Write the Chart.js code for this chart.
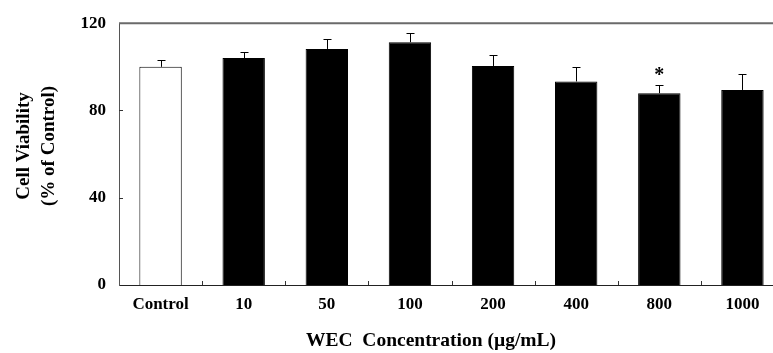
<!DOCTYPE html>
<html>
<head>
<meta charset="utf-8">
<script src="https://cdn.jsdelivr.net/npm/chart.js@4/dist/chart.umd.min.js"></script>
<style>
  html, body { margin: 0; padding: 0; background: #fff; overflow: hidden; }
  #wrap { width: 800px; height: 353px; }
</style>
</head>
<body>
<div id="wrap"><canvas id="viability" width="800" height="353"></canvas></div>
<script>
// Cell viability vs WEC concentration (bars + upper error bars)

const categories = ['Control', '10', '50', '100', '200', '400', '800', '1000'];
const viability = [100, 104, 108.2, 111.3, 100.4, 93.3, 87.9, 89.4];
const errorUp = [3.2, 2.6, 4.6, 4.1, 5.0, 6.6, 3.6, 7.3];
const significance = ['', '', '', '', '', '', '*', ''];
const yTicks = [0, 40, 80, 120];

const yTitle = ['Cell Viability', '(% of Control)'];
const xTitle = 'WEC  Concentration (\u00b5g/mL)';

const SERIF = '"Liberation Serif", "Times New Roman", serif';

// white bar for the control, black for treatments
const fillColors = categories.map((c, i) => i === 0 ? '#ffffff' : '#000000');

// error bars, star marks, inward ticks, top frame line and axis titles
const extrasPlugin = {
    id: 'extras',
    afterDatasetsDraw(chart) {
        const ctx = chart.ctx;
        const meta = chart.getDatasetMeta(0);
        const y = chart.scales.y;
        const area = chart.chartArea;

        ctx.save();
        ctx.strokeStyle = '#000';
        ctx.lineWidth = 1;
        meta.data.forEach((bar, i) => {
            const x = Math.round(bar.x) + 0.5;
            const yTop = y.getPixelForValue(viability[i]);
            const yErr = y.getPixelForValue(viability[i] + errorUp[i]);
            ctx.beginPath();
            ctx.moveTo(x, yTop);
            ctx.lineTo(x, Math.round(yErr) + 0.5);
            ctx.moveTo(x - 4, Math.round(yErr) + 0.5);
            ctx.lineTo(x + 4, Math.round(yErr) + 0.5);
            ctx.stroke();

            if (significance[i]) {
                ctx.fillStyle = '#000';
                ctx.font = 'bold 20px ' + SERIF;
                ctx.textAlign = 'center';
                ctx.textBaseline = 'middle';
                ctx.fillText(significance[i], bar.x, yErr - 10);
            }
        });

        // small inward ticks on both axes
        ctx.strokeStyle = '#333';
        const x = chart.scales.x;
        for (let i = 1; i < categories.length; i++) {
            const tx = Math.round((x.getPixelForTick(i - 1) + x.getPixelForTick(i)) / 2) + 0.5;
            ctx.beginPath();
            ctx.moveTo(tx, area.bottom);
            ctx.lineTo(tx, area.bottom - 4);
            ctx.stroke();
        }
        yTicks.slice(1, -1).forEach(v => {
            const ty = Math.round(y.getPixelForValue(v)) + 0.5;
            ctx.beginPath();
            ctx.moveTo(area.left, ty);
            ctx.lineTo(area.left + 4, ty);
            ctx.stroke();
        });

        // top frame line
        ctx.strokeStyle = '#6a6a6a';
        ctx.lineWidth = 2;
        ctx.beginPath();
        ctx.moveTo(area.left, area.top);
        ctx.lineTo(chart.width, area.top);
        ctx.stroke();

        // axis titles
        ctx.fillStyle = '#000';
        ctx.font = 'bold 19.5px ' + SERIF;
        ctx.textAlign = 'center';
        ctx.textBaseline = 'middle';
        ctx.fillText(xTitle, 431, 341);

        ctx.font = 'bold 19px ' + SERIF;
        ctx.translate(0, 146);
        ctx.rotate(-Math.PI / 2);
        ctx.fillText(yTitle[0], 0, 24);
        ctx.fillText(yTitle[1], 0, 49);
        ctx.restore();
    }
};

const chart = new Chart(document.getElementById('viability'), {
    type: 'bar',
    data: {
        labels: categories,
        datasets: [{
            data: viability,
            backgroundColor: fillColors,
            borderColor: '#000',
            borderWidth: 1,
            barPercentage: 0.51,
            categoryPercentage: 1.0
        }]
    },
    options: {
        responsive: false,
        animation: false,
        layout: { padding: { top: 17, right: 16, bottom: 0, left: 0 } },
        plugins: {
            legend: { display: false },
            tooltip: { enabled: false }
        },
        scales: {
            x: {
                grid: { display: false, drawTicks: false },
                border: { display: true, color: '#222', width: 1 },
                ticks: {
                    color: '#000',
                    padding: 9,
                    font: { family: SERIF, size: 17, weight: 'bold' }
                },
                afterFit(scale) { scale.height = 68; }
            },
            y: {
                min: 0,
                max: 120,
                afterBuildTicks(scale) { scale.ticks = yTicks.map(v => ({ value: v })); },
                grid: { display: false, drawTicks: false },
                border: { display: true, color: '#555', width: 1 },
                ticks: {
                    color: '#000',
                    padding: 13,
                    font: { family: SERIF, size: 17, weight: 'bold' }
                },
                afterFit(scale) { scale.width = 119; }
            }
        }
    },
    plugins: [extrasPlugin]
});
</script>
</body>
</html>
